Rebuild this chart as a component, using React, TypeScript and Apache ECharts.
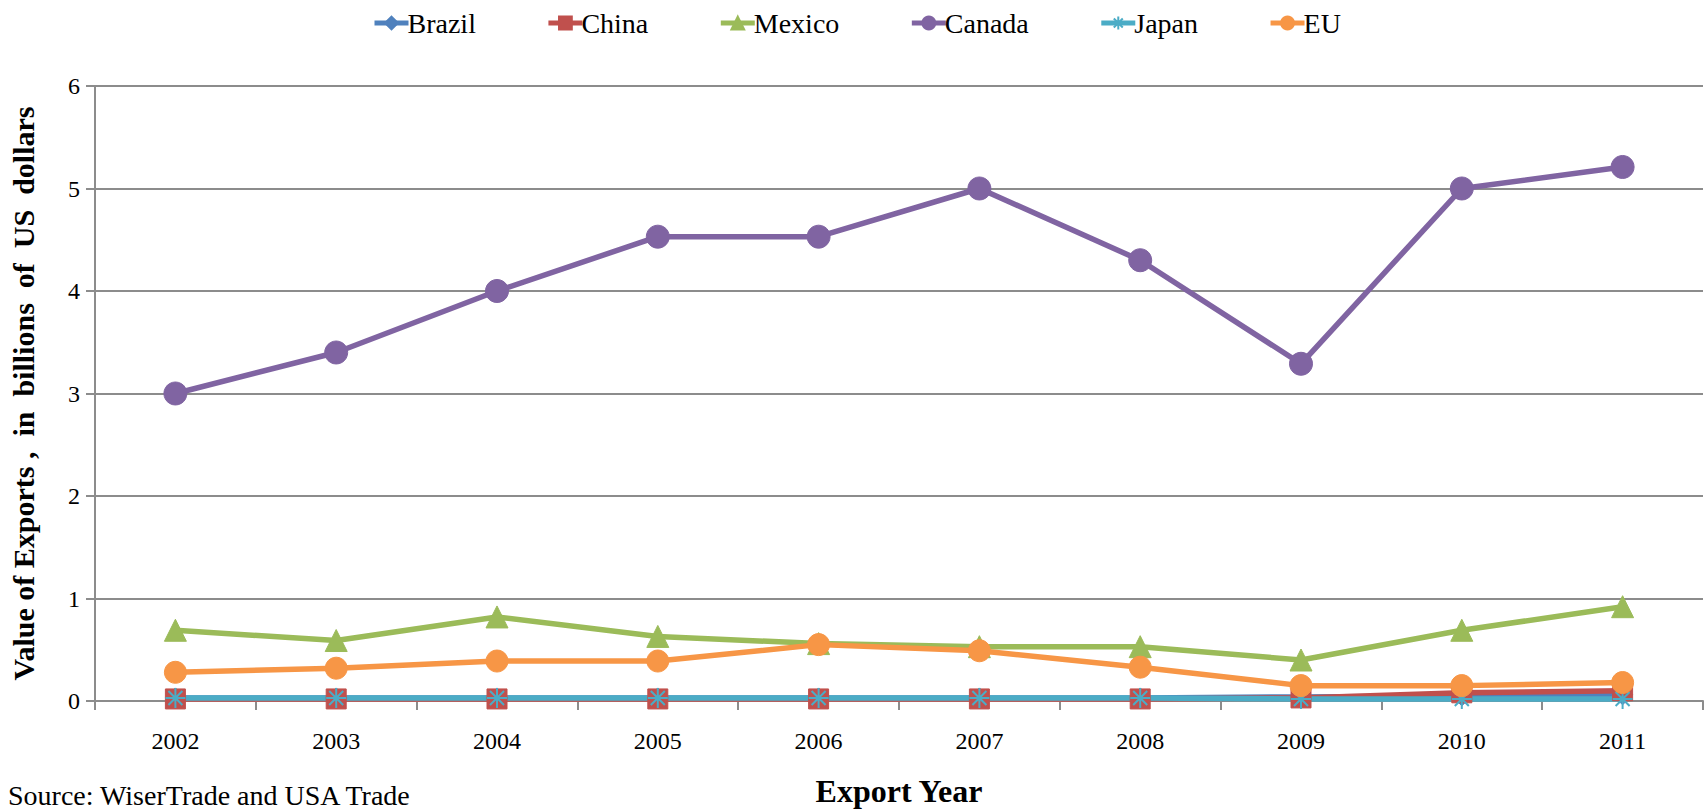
import React, { useEffect, useRef } from "react";
import * as echarts from "echarts";

const years = ["2002", "2003", "2004", "2005", "2006", "2007", "2008", "2009", "2010", "2011"];
const brazil = [0.03, 0.03, 0.03, 0.03, 0.03, 0.03, 0.03, 0.04, 0.05, 0.06];
const china = [0.02, 0.02, 0.02, 0.02, 0.02, 0.02, 0.02, 0.03, 0.08, 0.1];
const mexico = [0.69, 0.59, 0.82, 0.63, 0.56, 0.53, 0.53, 0.4, 0.69, 0.92];
const canada = [3.0, 3.4, 4.0, 4.53, 4.53, 5.0, 4.3, 3.29, 5.0, 5.21];
const japan = [0.03, 0.03, 0.03, 0.03, 0.03, 0.03, 0.03, 0.02, 0.02, 0.02];
const eu = [0.28, 0.32, 0.39, 0.39, 0.55, 0.49, 0.33, 0.15, 0.15, 0.18];
const yTicks = { min: 0, max: 6, interval: 1 };

const FONT = "'Liberation Serif', 'Times New Roman', serif";
const STAR = "path://M10,0L10,20M0,10L20,10M3,3L17,17M3,17L17,3";

export default function App() {
  const ref = useRef<HTMLDivElement>(null);
  useEffect(() => {
    const chart = echarts.init(ref.current!, null, { renderer: "svg" });
    const mk = (name: string, data: number[], color: string, symbol: string, size: number, bw = 1) => ({
      name,
      type: "line",
      data,
      symbol,
      symbolSize: size,
      showSymbol: true,
      lineStyle: { color, width: 5.5 },
      itemStyle: { color, borderColor: color, borderWidth: bw },
      emphasis: { disabled: true },
    });
    chart.setOption({
      animation: false,
      legend: {
        top: 4,
        left: 367,
        itemWidth: 34,
        itemHeight: 16,
        itemGap: 70,
        lineStyle: { width: 5 },
        textStyle: { fontFamily: FONT, fontSize: 28, color: "#000", padding: [0, 0, 0, -6] },
        data: ["Brazil", "China", "Mexico", "Canada", "Japan", "EU"],
      },
      grid: { left: 93, right: 4, top: 86, bottom: 108, containLabel: false },
      xAxis: {
        type: "category",
        data: years,
        boundaryGap: true,
        name: "Export Year",
        nameLocation: "middle",
        nameGap: 74,
        nameTextStyle: { fontFamily: FONT, fontSize: 32, fontWeight: "bold", color: "#000" },
        axisLine: { lineStyle: { color: "#8c8c8c", width: 2 } },
        axisTick: { show: true, length: 9, lineStyle: { color: "#8c8c8c", width: 2 } },
        axisLabel: { fontFamily: FONT, fontSize: 24, color: "#000", margin: 28 },
      },
      yAxis: {
        type: "value",
        min: yTicks.min,
        max: yTicks.max,
        interval: yTicks.interval,
        name: "Value of Exports ,  in  billions  of  US  dollars",
        nameLocation: "middle",
        nameGap: 57,
        nameTextStyle: { fontFamily: FONT, fontSize: 30, fontWeight: "bold", color: "#000" },
        axisLine: { show: true, lineStyle: { color: "#8c8c8c", width: 2 } },
        axisTick: { show: true, length: 9, lineStyle: { color: "#8c8c8c", width: 2 } },
        splitLine: { lineStyle: { color: "#8c8c8c", width: 2 } },
        axisLabel: { fontFamily: FONT, fontSize: 24, color: "#000", margin: 15 },
      },
      graphic: [
        {
          type: "text",
          left: 8,
          top: 781,
          style: { text: "Source: WiserTrade and USA Trade", fontFamily: FONT, fontSize: 28, lineHeight: 28, fill: "#000" },
        },
      ],
      series: [
        mk("Brazil", brazil, "#4F81BD", "diamond", 20),
        mk("China", china, "#C0504D", "rect", 20),
        mk("Mexico", mexico, "#9BBB59", "triangle", 22),
        mk("Canada", canada, "#8064A2", "circle", 23),
        mk("Japan", japan, "#4BACC6", STAR, 20, 2),
        mk("EU", eu, "#F79646", "circle", 22),
      ],
    });
    return () => chart.dispose();
  }, []);
  return <div ref={ref} style={{ position: "fixed", left: 0, top: 0, width: 1707, height: 812, background: "#fff" }} />;
}
